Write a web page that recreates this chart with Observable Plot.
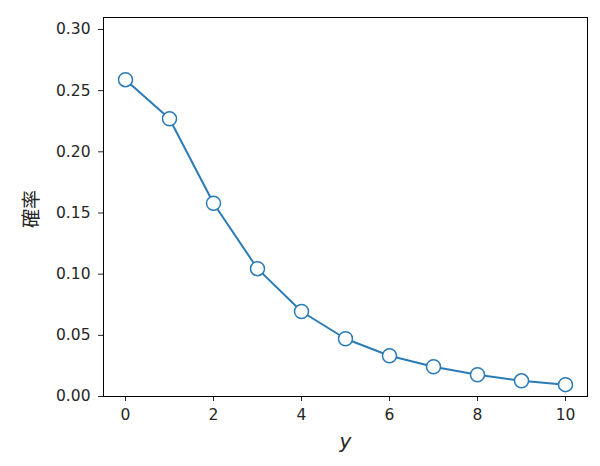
<!DOCTYPE html>
<html>
<head>
<meta charset="utf-8">
<script src="https://cdn.jsdelivr.net/npm/d3@7"></script>
<script src="https://cdn.jsdelivr.net/npm/@observablehq/plot@0.6"></script>
<style>
  body { margin: 0; background: #fff; }
  #chart svg { display: block; }
</style>
</head>
<body>
<div id="chart"></div>
<script>
// values
const ys = [0, 1, 2, 3, 4, 5, 6, 7, 8, 9, 10];
const probs = [0.259, 0.227, 0.158, 0.1045, 0.0695, 0.0472, 0.0333, 0.0243, 0.0178, 0.0128, 0.0097];
const xTicks = [0, 2, 4, 6, 8, 10];
const yTicks = [0, 0.05, 0.1, 0.15, 0.2, 0.25, 0.3];

const data = ys.map((y, i) => ({ y, p: probs[i] }));

const chart = Plot.plot({
    width: 600,
    height: 466,
    marginLeft: 103,
    marginRight: 13,
    marginTop: 17,
    marginBottom: 70,
    style: { fontFamily: "DejaVu Sans", fontSize: "15.5px", color: "#262626", background: "#fff" },
    x: { domain: [-0.5, 10.5], ticks: xTicks, tickSize: 5, tickPadding: 7, label: null },
    y: { domain: [0, 0.3098], ticks: yTicks, tickSize: 5, tickPadding: 8, tickFormat: d3.format(".2f"), label: null },
    marks: [
        Plot.frame({ stroke: "#000", strokeWidth: 1 }),
        Plot.line(data, { x: "y", y: "p", stroke: "#2a7bb6", strokeWidth: 2 }),
        Plot.dot(data, { x: "y", y: "p", r: 7, fill: "#fff", stroke: "#2a7bb6", strokeWidth: 1.5 }),
        Plot.text(["y"], { frameAnchor: "bottom", dy: 51, lineAnchor: "bottom", text: (d) => d, fontSize: 20, fontStyle: "italic", fill: "#262626" }),
        Plot.text(["確率"], { frameAnchor: "left", dx: -72, dy: 2, rotate: -90, lineAnchor: "middle", textAnchor: "middle", text: (d) => d, fontSize: 19, fontFamily: "Noto Sans CJK JP", fill: "#262626" })
    ]
});

document.getElementById("chart").appendChild(chart);
</script>
</body>
</html>
